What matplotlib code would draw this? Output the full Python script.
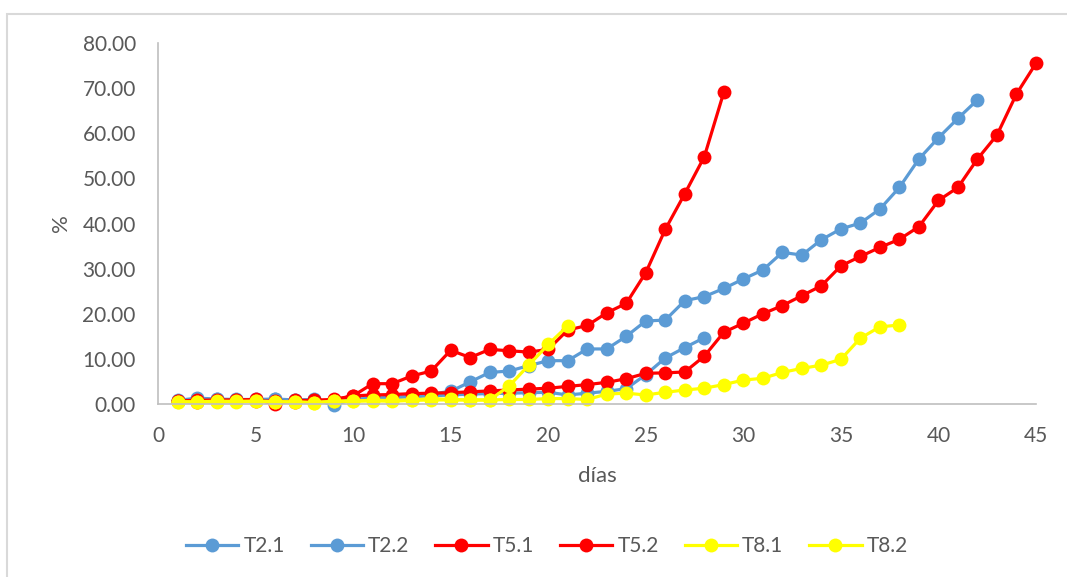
import matplotlib
matplotlib.use("Agg")
import matplotlib.pyplot as plt
from matplotlib.patches import Rectangle

plt.rcParams['font.family'] = ['Lato', 'DejaVu Sans']

# Germination curves (%) per day for each treatment
t2_1 = [0.8, 1.3, 1.1, 1.0, 1.0, 1.1, 0.9, 1.0, -0.2, 1.0,
        1.3, 1.5, 1.8, 2.2, 2.8, 4.9, 7.0, 7.3, 8.5, 9.6,
        9.6, 12.2, 12.2, 15.0, 18.4, 18.6, 22.9, 23.8, 25.6, 27.7,
        29.7, 33.6, 33.0, 36.4, 38.8, 40.1, 43.2, 48.0, 54.3, 59.0,
        63.3, 67.4]
t2_2 = [0.7, 1.0, 1.0, 0.9, 0.8, 1.0, 0.8, 0.9, 0.5, 1.0,
        1.2, 1.4, 1.6, 1.8, 2.0, 2.2, 2.3, 2.4, 2.5, 2.6,
        2.0, 2.4, 2.8, 3.4, 6.5, 10.2, 12.5, 14.7]
t5_1 = [0.7, 0.8, 0.9, 0.9, 1.0, 0.0, 0.8, 0.8, 1.0, 1.8,
        4.5, 4.5, 6.2, 7.3, 11.9, 10.3, 12.1, 11.8, 11.5, 12.1,
        16.4, 17.4, 20.2, 22.3, 29.1, 38.7, 46.6, 54.8, 69.1]
t5_2 = [0.6, 0.5, 0.7, 0.8, 0.7, 0.6, 0.5, 0.8, 0.9, 1.8,
        2.0, 2.1, 2.3, 2.4, 2.5, 2.7, 2.9, 3.1, 3.3, 3.5,
        3.9, 4.3, 4.8, 5.6, 6.8, 6.9, 7.1, 10.6, 15.9, 17.9,
        20.0, 21.8, 24.0, 26.2, 30.6, 32.7, 34.7, 36.5, 39.3, 45.1,
        48.0, 54.3, 59.6, 68.7, 75.5]
t8_1 = [0.5, 0.5, 0.6, 0.6, 0.6, 0.5, 0.5, 0.3, 0.6, 0.7,
        0.8, 0.8, 0.9, 1.2, 1.0, 0.9, 0.9, 4.0, 8.6, 13.2,
        17.3]
t8_2 = [0.5, 0.4, 0.4, 0.5, 0.6, 0.5, 0.4, 0.3, 0.6, 0.6,
        0.7, 0.6, 0.8, 0.9, 0.9, 0.9, 0.9, 1.0, 1.0, 1.2,
        1.2, 1.0, 2.2, 2.4, 2.0, 2.6, 3.1, 3.5, 4.3, 5.3,
        5.7, 7.0, 7.9, 8.6, 9.9, 14.6, 17.1, 17.5]

series = [
    ("T2.1", t2_1, "#5b9bd5"),
    ("T2.2", t2_2, "#5b9bd5"),
    ("T5.1", t5_1, "#ff0000"),
    ("T5.2", t5_2, "#ff0000"),
    ("T8.1", t8_1, "#ffff00"),
    ("T8.2", t8_2, "#ffff00"),
]

x_ticks = [0, 5, 10, 15, 20, 25, 30, 35, 40, 45]
y_ticks = [0, 10, 20, 30, 40, 50, 60, 70, 80]

fig = plt.figure(figsize=(10.67, 5.77), dpi=100)
fig.patch.set_facecolor("white")

# outer chart frame
fig.add_artist(Rectangle((7 / 1067, -0.05), (1075 - 7) / 1067, (577 - 14) / 577 + 0.05,
                         transform=fig.transFigure, fill=False,
                         edgecolor="#d9d9d9", linewidth=1.5))

ax = fig.add_axes([158 / 1067, 1 - 404 / 577, (1036 - 158) / 1067, (404 - 43) / 577])

for name, vals, col in series:
    days = list(range(1, len(vals) + 1))
    ax.plot(days, vals, color=col, linewidth=2.3, marker="o",
            markersize=10, markeredgewidth=0, label=name, clip_on=False)

ax.set_xlim(0, 45)
ax.set_ylim(0, 80)
ax.set_xticks(x_ticks)
ax.set_yticks(y_ticks)
ax.set_yticklabels([f"{v:.2f}" for v in y_ticks])
ax.tick_params(axis="both", length=0, labelsize=15, colors="#595959")
ax.tick_params(axis="x", pad=16)
ax.tick_params(axis="y", pad=16)

for side in ("top", "right"):
    ax.spines[side].set_visible(False)
for side in ("left", "bottom"):
    ax.spines[side].set_color("#bfbfbf")
    ax.spines[side].set_linewidth(1.2)

ax.set_xlabel("días", fontsize=16, color="#595959", labelpad=14)
ax.set_ylabel("%", fontsize=16, color="#595959", labelpad=8)

leg = fig.legend(loc="center", bbox_to_anchor=(547 / 1067, 1 - 546 / 577),
                 ncol=6, frameon=False, fontsize=15, handlelength=2.5,
                 columnspacing=1.25, handletextpad=0.25)
for t in leg.get_texts():
    t.set_color("#595959")

fig.savefig("out.png", dpi=100, facecolor="white")
